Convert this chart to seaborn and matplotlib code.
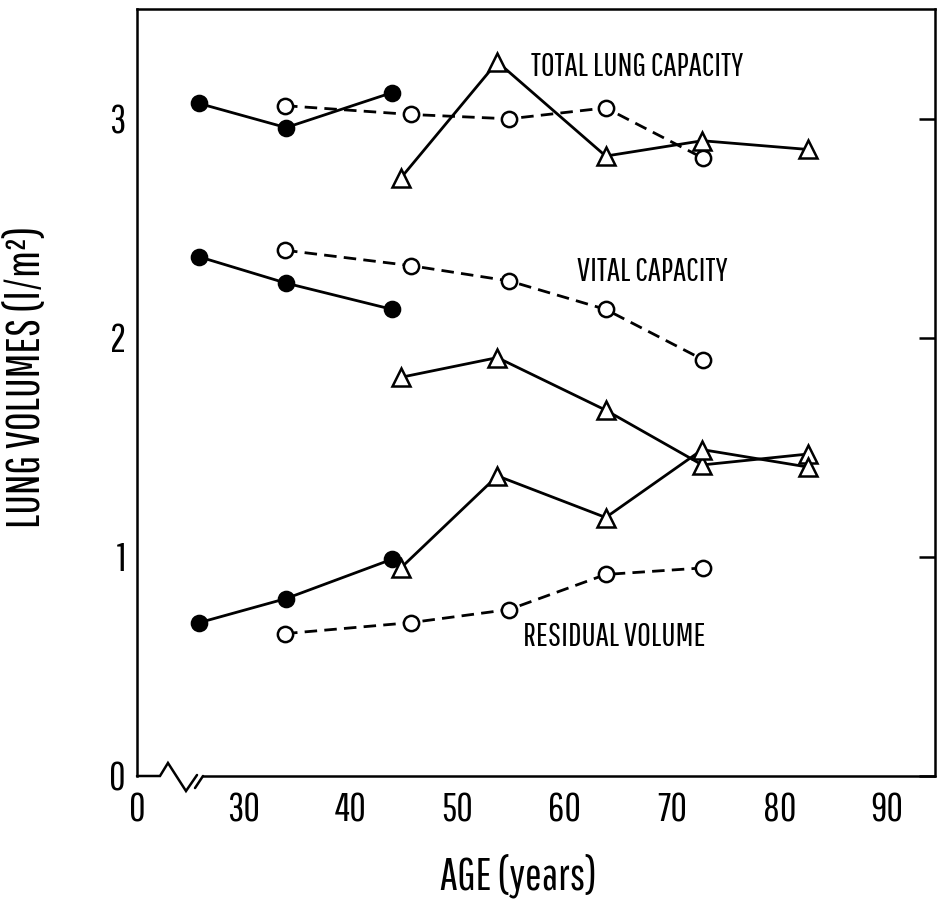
import matplotlib
matplotlib.use("Agg")
import matplotlib.pyplot as plt
import seaborn as sns

# Ages (years) of the three subject groups
ages_young = [25.9, 34.0, 43.9]
ages_mid = [33.9, 45.6, 54.8, 63.8, 72.9]
ages_old = [44.7, 53.7, 63.8, 72.8, 82.7]

# Total lung capacity (l/m2)
tlc_young = [3.07, 2.96, 3.12]
tlc_mid = [3.06, 3.02, 3.00, 3.05, 2.82]
tlc_old = [2.73, 3.26, 2.83, 2.90, 2.86]

# Vital capacity (l/m2)
vc_young = [2.37, 2.25, 2.13]
vc_mid = [2.40, 2.33, 2.26, 2.13, 1.90]
vc_old = [1.82, 1.91, 1.67, 1.42, 1.47]

# Residual volume (l/m2)
rv_young = [0.70, 0.81, 0.99]
rv_mid = [0.65, 0.70, 0.76, 0.92, 0.95]
rv_old = [0.95, 1.37, 1.18, 1.49, 1.41]

x_ticks = [30, 40, 50, 60, 70, 80, 90]
y_ticks = [0, 1, 2, 3]
curve_labels = ["TOTAL LUNG CAPACITY", "VITAL CAPACITY", "RESIDUAL VOLUME"]

sns.set_style("white")
plt.rcParams["font.family"] = ["Pathway Gothic One", "Roboto Condensed", "DejaVu Sans"]
plt.rcParams["text.color"] = "black"
plt.rcParams["axes.labelcolor"] = "black"

fig = plt.figure(figsize=(9.38, 9.08), dpi=100)
ax = fig.add_axes([137 / 938, 1 - 776 / 908, (935 - 137) / 938, (776 - 9.3) / 908])

X_MIN, X_MAX = 20.1, 94.5
LW = 2.0

styles = {
    "young": dict(marker="o", markersize=11.5, markerfacecolor="black",
                  markeredgewidth=1.2, linestyle="-"),
    "mid": dict(marker="o", markersize=11, markerfacecolor="white",
                markeredgewidth=1.8, linestyle=(0, (4.5, 2.6))),
    "old": dict(marker="^", markersize=12.5, markerfacecolor="white",
                markeredgewidth=1.8, linestyle="-"),
}

series = [
    ("young", ages_young, tlc_young), ("mid", ages_mid, tlc_mid), ("old", ages_old, tlc_old),
    ("young", ages_young, vc_young), ("mid", ages_mid, vc_mid), ("old", ages_old, vc_old),
    ("young", ages_young, rv_young), ("mid", ages_mid, rv_mid), ("old", ages_old, rv_old),
]

for group, ages, vals in series:
    sns.lineplot(x=ages, y=vals, ax=ax, color="black", linewidth=LW,
                 markeredgecolor="black", sort=False, estimator=None,
                 legend=False, **styles[group])

# Curve names
ax.text(56.8, 3.235, curve_labels[0], fontsize=24, ha="left", va="center")
ax.text(61.1, 2.30, curve_labels[1], fontsize=24, ha="left", va="center")
ax.text(56.1, 0.634, curve_labels[2], fontsize=24, ha="left", va="center")

ax.set_xlim(X_MIN, X_MAX)
ax.set_ylim(0, 3.5)
ax.set_xticks([X_MIN] + x_ticks)
ax.set_xticklabels(["0"] + [str(t) for t in x_ticks])
ax.set_yticks(y_ticks)
ax.set_yticklabels([str(t) for t in y_ticks])

ax.tick_params(axis="both", direction="in", length=11.5, width=1.8,
               labelsize=29, color="black", labelcolor="black")
ax.tick_params(axis="x", pad=12)
ax.tick_params(axis="y", pad=8, right=True)

for side in ["left", "right", "top"]:
    ax.spines[side].set_visible(True)
    ax.spines[side].set_linewidth(1.8)
    ax.spines[side].set_color("black")
ax.spines["bottom"].set_visible(False)

# Bottom axis line with a break after the origin
break_kw = dict(transform=ax.transAxes, color="black", lw=1.8, clip_on=False,
                solid_joinstyle="miter")
ax.plot([0, 0.0288, 0.0388, 0.0614, 0.0752], [0, 0, 0.017, -0.0196, 0.0013], **break_kw)
ax.plot([0.0727, 0.0827], [-0.0157, 0.0], **break_kw)
ax.plot([0.0827, 1.0], [0, 0], **break_kw)

ax.set_xlabel("AGE (years)", fontsize=32)
ax.set_ylabel("LUNG VOLUMES (l/m²)", fontsize=33)
ax.xaxis.set_label_coords((518 - 137) / 798, -(876 - 776) / 766.7)
ax.yaxis.set_label_coords(-(137 - 48) / 798, (776 - 377) / 766.7)
ax.xaxis.label.set_va("center")

fig.savefig("out.png", dpi=100, facecolor="white")
